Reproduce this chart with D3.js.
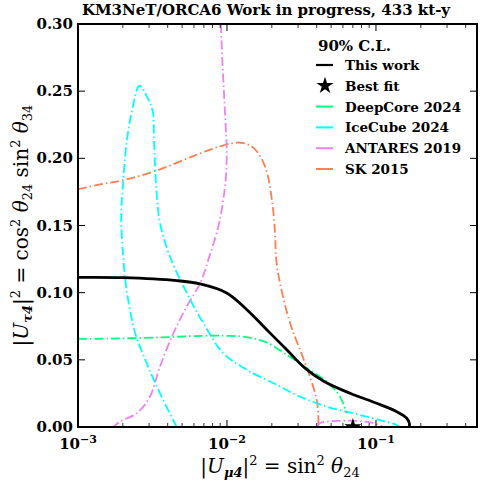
<!DOCTYPE html>
<html>
<head>
<meta charset="utf-8">
<script src="https://cdn.jsdelivr.net/npm/d3@7"></script>
<style>
  body { margin: 0; background: #fff; }
  svg text { font-family: "DejaVu Serif", serif; fill: #000; }
</style>
</head>
<body>
<svg id="chart" width="480" height="489"></svg>
<script>
// chart data
const thisWorkX = [0.001, 0.002, 0.0046, 0.0066, 0.00995, 0.0136, 0.0185, 0.0252, 0.0334, 0.0443, 0.067, 0.101, 0.138, 0.161, 0.1675, 0.1675];
const thisWorkY = [0.1114, 0.1112, 0.109, 0.1065, 0.0998, 0.0873, 0.0724, 0.0575, 0.0438, 0.0343, 0.0251, 0.0177, 0.0114, 0.0065, 0.0028, 0];

const deepCoreX = [0.001, 0.00141, 0.00355, 0.00693, 0.00995, 0.0136, 0.0185, 0.0252, 0.0343, 0.0467, 0.0573, 0.0635];
const deepCoreY = [0.0657, 0.0657, 0.0667, 0.0679, 0.0679, 0.0669, 0.0629, 0.0537, 0.0438, 0.0338, 0.0226, 0.0102];

const iceCubeX = [0.00459, 0.00355, 0.00289, 0.00242, 0.00212, 0.00201, 0.00195, 0.002, 0.00212, 0.00229, 0.00258, 0.00296, 0.00317, 0.00324, 0.00337, 0.00355, 0.0041, 0.00537, 0.00693, 0.00944, 0.0136, 0.0205, 0.0309, 0.0467, 0.0705, 0.106, 0.138, 0.145];
const iceCubeY = [0, 0.0251, 0.0475, 0.0699, 0.102, 0.127, 0.157, 0.179, 0.2117, 0.234, 0.254, 0.244, 0.2353, 0.2117, 0.1744, 0.152, 0.128, 0.0998, 0.0774, 0.055, 0.0425, 0.0326, 0.0226, 0.0152, 0.0102, 0.0052, 0.0015, 0];

const antaresX = [0.0091, 0.0093, 0.00954, 0.0098, 0.00995, 0.00987, 0.00944, 0.00874, 0.0075, 0.0066, 0.00537, 0.00437, 0.00355, 0.00304, 0.00248, 0.00191, 0.00173];
const antaresY = [0.30, 0.274, 0.249, 0.224, 0.209, 0.189, 0.169, 0.149, 0.1246, 0.107, 0.0898, 0.0699, 0.045, 0.0226, 0.0102, 0.004, 0];
const antares2X = [0.0405, 0.042, 0.055, 0.075, 0.095, 0.11];
const antares2Y = [0, 0.0028, 0.0045, 0.0045, 0.003, 0.0005];

const skX = [0.001, 0.00141, 0.00212, 0.00355, 0.00594, 0.00898, 0.0122, 0.015, 0.018, 0.02, 0.021, 0.0214, 0.0227, 0.0265, 0.0309, 0.036, 0.04, 0.041, 0.041];
const skY = [0.177, 0.1806, 0.1843, 0.1918, 0.2017, 0.209, 0.2117, 0.208, 0.194, 0.1694, 0.1445, 0.1246, 0.107, 0.0774, 0.0575, 0.0376, 0.0201, 0.009, 0];

const bestFit = [0.07, 0];

const yTicks = [0, 0.05, 0.10, 0.15, 0.20, 0.25, 0.30];
const xMajorTicks = [1e-3, 1e-2, 1e-1];
const xMajorExp = ["\u22123", "\u22122", "\u22121"];

const legendNames = ["This work", "Best fit", "DeepCore 2024", "IceCube 2024", "ANTARES 2019", "SK 2015"];
const legendColors = ["#000", "#000", "#00ff7f", "#00ffff", "#ee82ee", "#ff7f50"];

// layout
const PLOT = { left: 78, right: 477, top: 24, bottom: 427 };
const DASHDOT = "9,3,1.5,3";

const svg = d3.select("#chart");
const x = d3.scaleLog().domain([1e-3, 0.4766]).range([PLOT.left, PLOT.right]);
const y = d3.scaleLinear().domain([0, 0.30]).range([PLOT.bottom, PLOT.top]);

svg.append("clipPath").attr("id", "plotClip")
  .append("rect")
  .attr("x", PLOT.left).attr("y", PLOT.top)
  .attr("width", PLOT.right - PLOT.left).attr("height", PLOT.bottom - PLOT.top);

const line = d3.line()
  .x(d => x(d[0]))
  .y(d => y(d[1]))
  .curve(d3.curveCatmullRom.alpha(0.5));

const zip = (xs, ys) => xs.map((v, i) => [v, ys[i]]);

const curves = [
  { pts: zip(skX, skY), color: "#ff7f50", width: 1.8, dash: DASHDOT },
  { pts: zip(antaresX, antaresY), color: "#ee82ee", width: 1.8, dash: DASHDOT },
  { pts: zip(antares2X, antares2Y), color: "#ee82ee", width: 1.8, dash: DASHDOT },
  { pts: zip(iceCubeX, iceCubeY), color: "#00ffff", width: 1.8, dash: DASHDOT },
  { pts: zip(deepCoreX, deepCoreY), color: "#00ff7f", width: 1.8, dash: DASHDOT },
  { pts: zip(thisWorkX, thisWorkY), color: "#000", width: 2.8, dash: null }
];

const gPlot = svg.append("g").attr("clip-path", "url(#plotClip)");
curves.forEach(c => {
  gPlot.append("path")
    .attr("d", line(c.pts))
    .attr("fill", "none")
    .attr("stroke", c.color)
    .attr("stroke-width", c.width)
    .attr("stroke-dasharray", c.dash);
});

// best fit star sits on the axis
gPlot.append("path")
  .attr("d", d3.symbol(d3.symbolStar, 90)())
  .attr("transform", `translate(${x(bestFit[0])},${y(bestFit[1])})`)
  .attr("fill", "#000");

// ticks (inward, all four sides)
const gAxes = svg.append("g").attr("stroke", "#000");
const minorX = [];
for (let dec = -3; dec <= -1; dec++) {
  for (let m = 2; m <= 9; m++) {
    const v = m * Math.pow(10, dec);
    if (v <= x.domain()[1]) minorX.push(v);
  }
}
minorX.forEach(v => {
  gAxes.append("line").attr("x1", x(v)).attr("x2", x(v)).attr("y1", PLOT.bottom).attr("y2", PLOT.bottom - 4).attr("stroke-width", 0.8);
  gAxes.append("line").attr("x1", x(v)).attr("x2", x(v)).attr("y1", PLOT.top).attr("y2", PLOT.top + 4).attr("stroke-width", 0.8);
});
xMajorTicks.forEach(v => {
  gAxes.append("line").attr("x1", x(v)).attr("x2", x(v)).attr("y1", PLOT.bottom).attr("y2", PLOT.bottom - 7).attr("stroke-width", 1);
  gAxes.append("line").attr("x1", x(v)).attr("x2", x(v)).attr("y1", PLOT.top).attr("y2", PLOT.top + 7).attr("stroke-width", 1);
});
yTicks.forEach(v => {
  gAxes.append("line").attr("x1", PLOT.left).attr("x2", PLOT.left + 7).attr("y1", y(v)).attr("y2", y(v)).attr("stroke-width", 1);
  gAxes.append("line").attr("x1", PLOT.right).attr("x2", PLOT.right - 7).attr("y1", y(v)).attr("y2", y(v)).attr("stroke-width", 1);
});

svg.append("rect")
  .attr("x", PLOT.left).attr("y", PLOT.top)
  .attr("width", PLOT.right - PLOT.left).attr("height", PLOT.bottom - PLOT.top)
  .attr("fill", "none").attr("stroke", "#000").attr("stroke-width", 2);

// tick labels
yTicks.forEach(v => {
  svg.append("text")
    .attr("x", PLOT.left - 5).attr("y", y(v) + 5)
    .attr("text-anchor", "end")
    .attr("font-size", 15).attr("font-weight", "bold")
    .text(v.toFixed(2));
});
xMajorTicks.forEach((v, i) => {
  const t = svg.append("text")
    .attr("x", x(v)).attr("y", 449)
    .attr("text-anchor", "middle")
    .attr("font-size", 15).attr("font-weight", "bold");
  t.append("tspan").text("10");
  t.append("tspan").attr("dy", -6).attr("font-size", 11).text(xMajorExp[i]);
});

// title
svg.append("text")
  .attr("x", 266).attr("y", 15)
  .attr("text-anchor", "middle")
  .attr("font-size", 15).attr("font-weight", "bold")
  .text("KM3NeT/ORCA6 Work in progress, 433 kt-y");

// x axis label
const xl = svg.append("text")
  .attr("x", 280).attr("y", 473)
  .attr("text-anchor", "middle")
  .attr("font-size", 20);
xl.append("tspan").text("|");
xl.append("tspan").attr("font-style", "italic").text("U");
xl.append("tspan").attr("font-style", "italic").attr("font-weight", "bold").attr("font-size", 13).attr("dy", 4).text("\u03bc4");
xl.append("tspan").attr("dy", -4).text("|");
xl.append("tspan").attr("font-size", 13).attr("dy", -8).text("2");
xl.append("tspan").attr("dy", 8).text(" = sin");
xl.append("tspan").attr("font-size", 13).attr("dy", -8).text("2");
xl.append("tspan").attr("dy", 8).attr("font-style", "italic").text(" \u03b8");
xl.append("tspan").attr("font-size", 13).attr("dy", 4).text("24");

// y axis label
const yl = svg.append("text")
  .attr("transform", `translate(28,${(PLOT.top + PLOT.bottom) / 2}) rotate(-90)`)
  .attr("text-anchor", "middle")
  .attr("font-size", 20);
yl.append("tspan").text("|");
yl.append("tspan").attr("font-style", "italic").text("U");
yl.append("tspan").attr("font-style", "italic").attr("font-weight", "bold").attr("font-size", 13).attr("dy", 4).text("\u03c44");
yl.append("tspan").attr("dy", -4).text("|");
yl.append("tspan").attr("font-size", 13).attr("dy", -8).text("2");
yl.append("tspan").attr("dy", 8).text(" = cos");
yl.append("tspan").attr("font-size", 13).attr("dy", -8).text("2");
yl.append("tspan").attr("dy", 8).attr("font-style", "italic").text(" \u03b8");
yl.append("tspan").attr("font-size", 13).attr("dy", 4).text("24");
yl.append("tspan").attr("dy", -4).text(" sin");
yl.append("tspan").attr("font-size", 13).attr("dy", -8).text("2");
yl.append("tspan").attr("dy", 8).attr("font-style", "italic").text(" \u03b8");
yl.append("tspan").attr("font-size", 13).attr("dy", 4).text("34");

// legend
const legend = svg.append("g");
legend.append("text")
  .attr("x", 318).attr("y", 51)
  .attr("font-size", 15).attr("font-weight", "bold")
  .text("90% C.L.");
legendNames.forEach((name, i) => {
  const cy = 65 + i * 20.8;
  if (name === "Best fit") {
    legend.append("path")
      .attr("d", d3.symbol(d3.symbolStar, 90)())
      .attr("transform", `translate(325,${cy})`)
      .attr("fill", legendColors[i]);
  } else {
    legend.append("line")
      .attr("x1", 316).attr("x2", 333).attr("y1", cy).attr("y2", cy)
      .attr("stroke", legendColors[i])
      .attr("stroke-width", i === 0 ? 2.2 : 2);
  }
  legend.append("text")
    .attr("x", 345).attr("y", cy + 5)
    .attr("font-size", 13.5).attr("font-weight", "bold")
    .text(name);
});
</script>
</body>
</html>
